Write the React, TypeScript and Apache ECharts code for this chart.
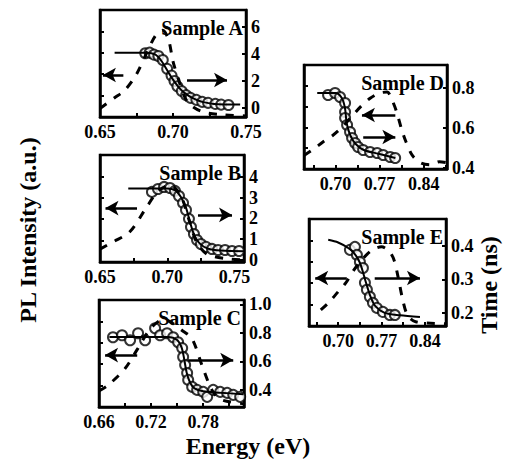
import React, { useEffect, useRef } from "react";
import * as echarts from "echarts";

// ---------- Panel A ----------
const circA: number[][] = [[0.681,4.05],[0.684,4.1],[0.687,3.95],[0.690,3.85],[0.693,3.55],[0.696,2.9],[0.699,2.4],[0.701,2.0],[0.703,1.6],[0.706,1.25],[0.709,0.95],[0.712,0.75],[0.716,0.6],[0.720,0.45],[0.724,0.38],[0.729,0.3],[0.733,0.25],[0.738,0.22]];
const fitA: number[][] = [[0.660,4.1],[0.682,4.1],[0.688,3.95],[0.692,3.5],[0.696,2.8],[0.700,2.1],[0.705,1.4],[0.710,0.95],[0.715,0.65],[0.720,0.45],[0.728,0.3],[0.746,0.25]];
const plA: number[][] = [[0.650,0.08],[0.660,0.18],[0.667,0.25],[0.675,0.40],[0.682,0.60],[0.688,0.76],[0.693,0.81],[0.697,0.72],[0.700,0.52],[0.705,0.30],[0.710,0.14],[0.720,0.05],[0.735,0.02],[0.750,0.01]];
const arrowsA: number[][][] = [[[0.666,2.44],[0.652,2.44]],[[0.7096,2.07],[0.737,2.07]]];

// ---------- Panel B ----------
const circB: number[][] = [[0.6886,3.28],[0.6931,3.42],[0.6976,3.52],[0.7020,3.47],[0.7057,3.33],[0.7087,3.08],[0.7117,2.75],[0.7139,2.41],[0.7161,1.98],[0.7176,1.59],[0.7198,1.25],[0.7221,0.96],[0.7250,0.77],[0.7288,0.63],[0.7332,0.53],[0.7377,0.48],[0.7429,0.48],[0.7481,0.43],[0.7533,0.43]];
const fitB: number[][] = [[0.671,3.45],[0.690,3.45],[0.700,3.45],[0.706,3.35],[0.710,3.05],[0.714,2.5],[0.717,1.8],[0.720,1.2],[0.724,0.8],[0.730,0.55],[0.740,0.45],[0.757,0.42]];
const plB: number[][] = [[0.650,0.12],[0.660,0.19],[0.672,0.28],[0.684,0.50],[0.693,0.66],[0.702,0.72],[0.710,0.62],[0.716,0.40],[0.722,0.18],[0.730,0.07],[0.745,0.03],[0.757,0.02]];
const arrowsB: number[][][] = [[[0.6775,2.5],[0.6541,2.5]],[[0.7228,2.17],[0.7481,2.17]]];

// ---------- Panel C ----------
const circC: number[][] = [[0.6761,0.769],[0.6865,0.783],[0.6958,0.748],[0.7050,0.797],[0.7131,0.748],[0.7246,0.832],[0.7304,0.783],[0.7384,0.797],[0.7454,0.769],[0.7511,0.734],[0.7558,0.693],[0.7569,0.630],[0.7592,0.574],[0.7615,0.518],[0.7627,0.470],[0.7673,0.421],[0.7730,0.400],[0.7800,0.386],[0.7846,0.351],[0.7915,0.400],[0.7996,0.386],[0.8076,0.379],[0.8146,0.365],[0.8226,0.351]];
const fitC: number[][] = [[0.672,0.77],[0.700,0.77],[0.740,0.77],[0.750,0.75],[0.755,0.70],[0.758,0.62],[0.761,0.52],[0.765,0.45],[0.770,0.41],[0.780,0.39],[0.800,0.38],[0.826,0.37]];
const plC: number[][] = [[0.660,0.15],[0.670,0.20],[0.690,0.36],[0.705,0.55],[0.720,0.74],[0.735,0.82],[0.745,0.78],[0.755,0.72],[0.767,0.64],[0.779,0.38],[0.790,0.16],[0.800,0.07],[0.827,0.03]];
const arrowsC: number[][][] = [[[0.704,0.644],[0.667,0.644]],[[0.7627,0.609],[0.8146,0.609]]];

// ---------- Panel D ----------
const circD: number[][] = [[0.6882,0.765],[0.6993,0.775],[0.7072,0.755],[0.7152,0.725],[0.7152,0.680],[0.7152,0.650],[0.7184,0.615],[0.7231,0.580],[0.7263,0.550],[0.7311,0.525],[0.7359,0.505],[0.7438,0.490],[0.7549,0.480],[0.7661,0.475],[0.7756,0.465],[0.7867,0.455],[0.7947,0.450]];
const fitD: number[][] = [[0.671,0.775],[0.700,0.775],[0.710,0.75],[0.715,0.70],[0.718,0.62],[0.724,0.56],[0.732,0.52],[0.745,0.49],[0.770,0.47],[0.795,0.45]];
const plD: number[][] = [[0.650,0.13],[0.665,0.19],[0.680,0.26],[0.695,0.32],[0.710,0.40],[0.725,0.50],[0.740,0.60],[0.755,0.68],[0.770,0.73],[0.782,0.74],[0.790,0.66],[0.797,0.55],[0.805,0.38],[0.812,0.26],[0.822,0.13],[0.835,0.06],[0.850,0.04],[0.865,0.07],[0.877,0.06]];
const arrowsD: number[][][] = [[[0.795,0.665],[0.742,0.665]],[[0.744,0.555],[0.795,0.555]]];

// ---------- Panel E ----------
const circE: number[][] = [[0.7190,0.388],[0.7271,0.397],[0.7303,0.373],[0.7351,0.352],[0.7400,0.334],[0.7432,0.290],[0.7464,0.269],[0.7512,0.248],[0.7561,0.230],[0.7625,0.215],[0.7722,0.203],[0.7834,0.194],[0.7915,0.194]];
const fitE: number[][] = [[0.684,0.418],[0.700,0.41],[0.715,0.395],[0.725,0.38],[0.735,0.35],[0.745,0.29],[0.752,0.25],[0.760,0.22],[0.775,0.20],[0.800,0.193],[0.832,0.188]];
const plE: number[][] = [[0.672,0.15],[0.685,0.22],[0.700,0.32],[0.712,0.40],[0.725,0.52],[0.740,0.63],[0.755,0.71],[0.770,0.74],[0.782,0.70],[0.790,0.62],[0.797,0.45],[0.804,0.25],[0.812,0.10],[0.825,0.04],[0.874,0.02]];
const arrowsE: number[][][] = [[[0.714,0.304],[0.663,0.304]],[[0.759,0.304],[0.832,0.304]]];

// ---------- Axis ticks / labels ----------
const xLabelsA = [0.65, 0.70, 0.75];
const xLabelsB = [0.65, 0.70, 0.75];
const xLabelsC = [0.66, 0.72, 0.78];
const xLabelsD = [0.70, 0.77, 0.84];
const xLabelsE = [0.70, 0.77, 0.84];
const yLabelsA = [0, 2, 4, 6];
const yLabelsB = [0, 1, 2, 3, 4];
const yLabelsC = [0.4, 0.6, 0.8, 1.0];
const yLabelsD = [0.4, 0.6, 0.8];
const yLabelsE = [0.2, 0.3, 0.4];
const sampleNames = ["Sample A", "Sample B", "Sample C", "Sample D", "Sample E"];

const FONT = '"Liberation Serif", "Times New Roman", serif';

const panels = [
  { name: sampleNames[0], grid: [100, 10, 146, 107], x: [0.65, 0.75], y: [-0.67, 7.26], xl: xLabelsA, xt: 0.025, yl: yLabelsA, dec: 0, circ: circA, fit: fitA, pl: plA, arrows: arrowsA },
  { name: sampleNames[1], grid: [100, 155, 144, 107], x: [0.65, 0.757], y: [-0.1, 5.06], xl: xLabelsB, xt: 0.025, yl: yLabelsB, dec: 0, circ: circB, fit: fitB, pl: plB, arrows: arrowsB },
  { name: sampleNames[2], grid: [99, 300, 145, 107], x: [0.66, 0.827], y: [0.28, 1.03], xl: xLabelsC, xt: 0.03, yl: yLabelsC, dec: 1, circ: circC, fit: fitC, pl: plC, arrows: arrowsC },
  { name: sampleNames[3], grid: [304, 65, 143, 104], x: [0.65, 0.877], y: [0.395, 0.915], xl: xLabelsD, xt: 0.035, yl: yLabelsD, dec: 1, circ: circD, fit: fitD, pl: plD, arrows: arrowsD },
  { name: sampleNames[4], grid: [309, 219, 137, 107], x: [0.653, 0.874], y: [0.161, 0.48], xl: xLabelsE, xt: 0.035, yl: yLabelsE, dec: 1, circ: circE, fit: fitE, pl: plE, arrows: arrowsE },
];

function tickList(labels: number[], step: number, lo: number, hi: number) {
  const out: number[] = [];
  const start = labels[0];
  for (let k = -20; k <= 20; k++) {
    const v = +(start + k * step).toFixed(4);
    if (v > lo + 1e-6 && v < hi - 1e-6) out.push(v);
  }
  return out;
}

export default function App() {
  const ref = useRef<HTMLDivElement>(null);
  useEffect(() => {
    if (!ref.current) return;
    const chart = echarts.init(ref.current, null, { renderer: "svg" });
    const grid: any[] = [];
    const xAxis: any[] = [];
    const yAxis: any[] = [];
    const series: any[] = [];
    const graphic: any[] = [];
    const lab = { fontFamily: FONT, fontWeight: "bold", fontSize: 18, color: "#000" };
    panels.forEach((p, i) => {
      const [l, t, w, h] = p.grid;
      grid.push({ left: l, top: t, width: w, height: h, show: true, borderColor: "#000", borderWidth: 2.5, backgroundColor: "#fff" });
      xAxis.push({
        gridIndex: i, type: "value", min: p.x[0], max: p.x[1],
        axisLine: { show: true, onZero: false, lineStyle: { color: "#000", width: 2.5 } },
        axisTick: { show: true, inside: true, length: 4, lineStyle: { color: "#000", width: 2 }, customValues: tickList(p.xl, p.xt, p.x[0], p.x[1]) },
        axisLabel: { ...lab, margin: 6, customValues: p.xl, formatter: (v: number) => v.toFixed(2) },
        splitLine: { show: false },
      });
      yAxis.push({
        gridIndex: i, type: "value", min: 0, max: 1, interval: 0.2, position: "left",
        axisLine: { show: true, onZero: false, lineStyle: { color: "#000", width: 2.5 } },
        axisTick: { show: true, inside: true, length: 4, lineStyle: { color: "#000", width: 2 } },
        axisLabel: { show: false }, splitLine: { show: false },
      });
      yAxis.push({
        gridIndex: i, type: "value", min: p.y[0], max: p.y[1], position: "right",
        axisLine: { show: true, onZero: false, lineStyle: { color: "#000", width: 2.5 } },
        axisTick: { show: true, inside: true, length: 4, lineStyle: { color: "#000", width: 2 }, customValues: p.yl },
        axisLabel: { ...lab, margin: 5, customValues: p.yl, formatter: (v: number) => v.toFixed(p.dec) },
        splitLine: { show: false },
      });
      series.push({
        type: "line", xAxisIndex: i, yAxisIndex: 2 * i, data: p.pl, showSymbol: false, smooth: 0.3,
        lineStyle: { color: "#000", width: 3, type: [8, 9] }, silent: true,
      });
      series.push({
        type: "line", xAxisIndex: i, yAxisIndex: 2 * i + 1, data: p.fit, showSymbol: false, smooth: 0.3,
        lineStyle: { color: "#000", width: 2 }, silent: true,
        markLine: {
          silent: true, symbol: ["none", "arrow"], symbolSize: [11, 13],
          label: { show: false },
          lineStyle: { color: "#000", width: 2.5, type: "solid" },
          data: p.arrows.map((a) => [{ coord: a[0] }, { coord: a[1] }]),
        },
      });
      series.push({
        type: "scatter", xAxisIndex: i, yAxisIndex: 2 * i + 1, data: p.circ, symbol: "circle", symbolSize: 10,
        itemStyle: { color: "#fff", borderColor: "#000", borderWidth: 2 }, silent: true,
      });
      graphic.push({
        type: "text", x: l + w - 3, y: t + 8,
        style: { text: p.name, fill: "#000", font: `bold 20px ${FONT}`, textAlign: "right", textVerticalAlign: "top" },
      });
    });
    graphic.push({ type: "text", x: 28, y: 230, rotation: Math.PI / 2, style: { text: "PL Intensity (a.u.)", fill: "#000", font: `bold 24px ${FONT}`, textAlign: "center", textVerticalAlign: "middle" } });
    graphic.push({ type: "text", x: 489, y: 285, rotation: Math.PI / 2, style: { text: "Time (ns)", fill: "#000", font: `bold 24px ${FONT}`, textAlign: "center", textVerticalAlign: "middle" } });
    graphic.push({ type: "text", x: 248, y: 446, style: { text: "Energy (eV)", fill: "#000", font: `bold 24px ${FONT}`, textAlign: "center", textVerticalAlign: "middle" } });
    chart.setOption({ animation: false, backgroundColor: "#fff", grid, xAxis, yAxis, series, graphic });
    return () => chart.dispose();
  }, []);
  return <div ref={ref} style={{ position: "absolute", left: 0, top: 0, width: 522, height: 464 }} />;
}
